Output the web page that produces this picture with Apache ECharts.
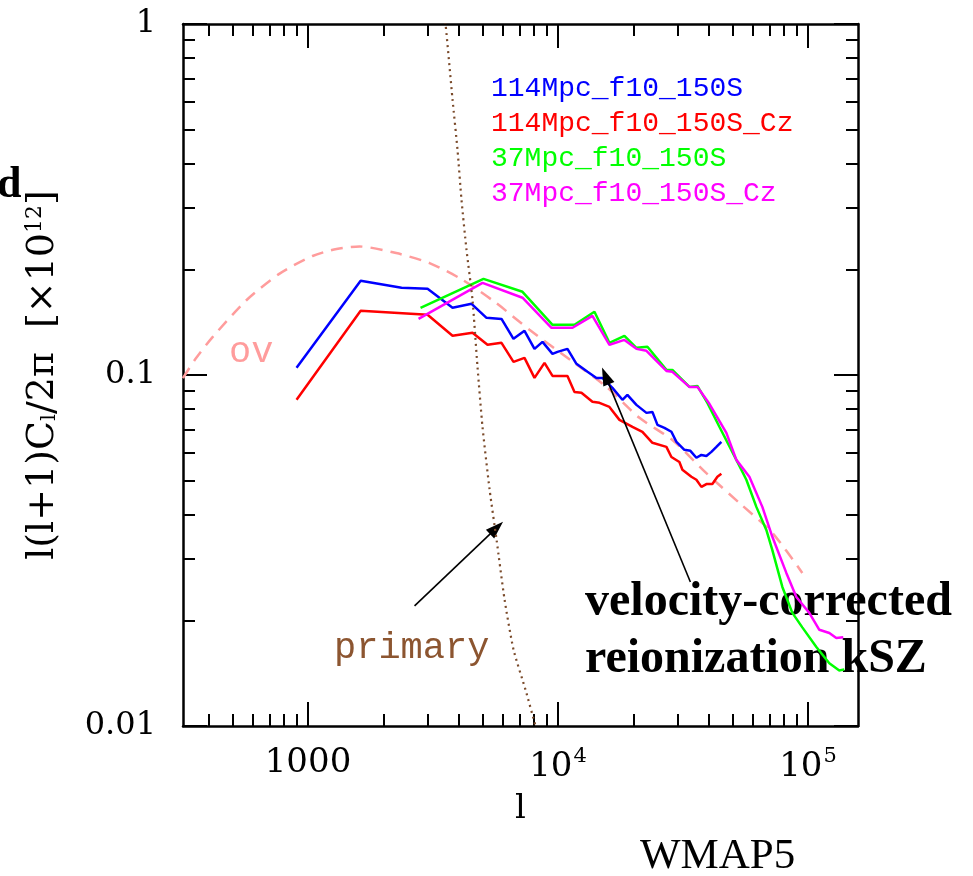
<!DOCTYPE html>
<html>
<head>
<meta charset="utf-8">
<script src="https://cdn.jsdelivr.net/npm/echarts@6/dist/echarts.min.js"></script>
<style>
html, body { margin: 0; padding: 0; background: #fff; }
#chart { width: 973px; height: 876px; }
</style>
</head>
<body>
<div id="chart"></div>
<script>
// Multipole l and band power l(l+1)C_l/2π in units of 10^12
const names = ['114Mpc_f10_150S', '114Mpc_f10_150S_Cz', '37Mpc_f10_150S', '37Mpc_f10_150S_Cz'];

const ell114 = [900, 1624, 2367, 3008, 3786, 4510, 5177, 5943, 6637, 7345, 8054, 8670, 9506, 9954, 10910, 11850, 13120, 14250, 15060, 16510, 18100, 18950, 20590, 22580, 23860, 24990, 26650, 28420, 29760, 32030, 33850, 35770, 37460, 39220, 41070, 43010, 45030];
const cl114 = [0.1048, 0.1855, 0.1772, 0.1760, 0.1554, 0.1595, 0.1455, 0.1445, 0.1268, 0.1336, 0.1187, 0.1243, 0.1149, 0.1164, 0.1187, 0.1076, 0.1021, 0.0981, 0.0981, 0.0919, 0.0850, 0.0878, 0.0822, 0.0780, 0.0785, 0.0721, 0.0707, 0.0689, 0.0645, 0.0612, 0.0608, 0.0581, 0.0592, 0.0588, 0.0604, 0.0624, 0.0645];

const ell114Cz = [900, 1624, 3008, 3786, 4551, 5225, 5943, 6637, 7345, 8054, 8831, 9506, 10910, 11640, 12410, 13730, 14650, 16060, 17610, 19850, 21760, 23860, 27140, 28420, 30590, 31450, 34160, 35770, 37460, 39220, 41450, 43410, 45030];
const cl114Cz = [0.0850, 0.1524, 0.1484, 0.1293, 0.1319, 0.1219, 0.1235, 0.1090, 0.1119, 0.0981, 0.1083, 0.0994, 0.0994, 0.0895, 0.0890, 0.0839, 0.0833, 0.0811, 0.0745, 0.0712, 0.0689, 0.0641, 0.0624, 0.0584, 0.0565, 0.0537, 0.0513, 0.0503, 0.0480, 0.0489, 0.0489, 0.0513, 0.0523];

const ell37 = [2819, 5036, 7211, 9506, 11640, 13990, 16060, 18440, 20590, 22790, 27140, 28680, 33540, 36100, 39580, 44210, 51690, 56680, 62150, 68130, 72010, 78960, 86580, 94900, 108000, 121700, 133400, 139700];
const cl37 = [0.1554, 0.1879, 0.1726, 0.1390, 0.1390, 0.1514, 0.1235, 0.1293, 0.1195, 0.1203, 0.1034, 0.1034, 0.0925, 0.0931, 0.0833, 0.0712, 0.0573, 0.0503, 0.0421, 0.0362, 0.0317, 0.0249, 0.0210, 0.0191, 0.0168, 0.0151, 0.0144, 0.0145];

const ell37Cz = [2768, 4990, 7211, 9417, 11430, 13730, 16060, 18440, 20590, 22580, 27140, 28680, 33540, 36100, 40320, 47150, 51690, 58270, 65670, 72010, 81910, 89830, 101200, 111000, 121700, 129800, 138400];
const cl37Cz = [0.1445, 0.1831, 0.1660, 0.1363, 0.1363, 0.1474, 0.1219, 0.1259, 0.1187, 0.1172, 0.1027, 0.1021, 0.0925, 0.0925, 0.0828, 0.0684, 0.0573, 0.0513, 0.0421, 0.0346, 0.0273, 0.0233, 0.0210, 0.0188, 0.0184, 0.0178, 0.0179];

// Ostriker-Vishniac model curve
const ellOV = [316, 355, 416, 567, 770, 1043, 1301, 1609, 2255, 3064, 4151, 5661, 7691, 11430, 15580, 21170, 28680, 39120, 53150, 72010, 94900];
const clOV = [0.098, 0.1112, 0.1284, 0.1633, 0.1945, 0.2183, 0.2286, 0.2323, 0.2225, 0.2084, 0.1867, 0.1603, 0.1345, 0.1092, 0.0927, 0.0755, 0.0653, 0.0526, 0.0432, 0.0355, 0.0273];

// Primary CMB damping tail
const ellPrim = [3470, 3549, 3786, 3963, 4111, 4305, 4550, 4764, 4988, 5327, 5680, 6114, 6642, 7417, 8130, 8300];
const clPrim = [1.1, 1.0, 0.6085, 0.4383, 0.3156, 0.2273, 0.1637, 0.1055, 0.0712, 0.0471, 0.0339, 0.0229, 0.01647, 0.01267, 0.0100, 0.0095];

// Axis ranges (decades) and tick values
const xRange = [316.23, 158490];
const yRange = [0.01, 1];
const xMajor = [1000, 10000, 100000];
const xMinor = [400, 500, 600, 700, 800, 900, 2000, 3000, 4000, 5000, 6000, 7000, 8000, 9000, 20000, 30000, 40000, 50000, 60000, 70000, 80000, 90000];
const yMajor = [0.01, 0.1, 1];
const yMinor = [0.02, 0.03, 0.04, 0.05, 0.06, 0.07, 0.08, 0.09, 0.2, 0.3, 0.4, 0.5, 0.6, 0.7, 0.8, 0.9];
const xTickText = ['1000', '{b|10}{s|4}', '{b|10}{s|5}'];
const yTickText = ['0.01', '0.1', '1'];

// Annotation arrows: [tail l, tail C, head l, head C]
const arrowPrimary = [2668, 0.02198, 5677, 0.03667];
const arrowKSZ = [33850, 0.02573, 15480, 0.0994];

const lg = Math.log10;
const pairs = (xs, ys) => xs.map((x, i) => [lg(x), lg(ys[i])]);
const fmtFrom = (vals, texts) => v => {
  const i = vals.findIndex(t => Math.abs(lg(t) - v) < 1e-6);
  return i < 0 ? '' : texts[i];
};

const SERIF = '"DejaVu Serif", serif';
const MONO = '"Liberation Mono", monospace';
const black = '#000';
const GREEN = '#00ff00';

function frameAxis(opts) {
  return Object.assign({
    type: 'value',
    min: lg(opts.range[0]),
    max: lg(opts.range[1]),
    splitLine: { show: false },
    axisLine: { show: !!opts.line, onZero: false, lineStyle: { color: black, width: 2.5 } },
    axisTick: {
      show: true, inside: true, length: opts.len,
      customValues: opts.ticks.map(lg),
      lineStyle: { color: black, width: 2 }
    },
    axisLabel: { show: false }
  }, opts.extra || {});
}

const xLabel = {
  show: true,
  customValues: xMajor.map(lg),
  formatter: fmtFrom(xMajor, xTickText),
  margin: 20,
  color: black,
  fontFamily: SERIF,
  fontSize: 34,
  rich: {
    b: { fontFamily: SERIF, fontSize: 34, color: black, lineHeight: 38, verticalAlign: 'bottom' },
    s: { fontFamily: SERIF, fontSize: 21, color: black, lineHeight: 38, verticalAlign: 'top', padding: [0, 0, 0, 1] }
  }
};
const yLabel = {
  show: true,
  customValues: yMajor.map(lg),
  formatter: fmtFrom(yMajor, yTickText),
  margin: 27,
  color: black,
  fontFamily: SERIF,
  fontSize: 32
};

const option = {
  animation: false,
  backgroundColor: '#fff',
  grid: { left: 183, right: 115, top: 24, bottom: 150 },
  xAxis: [
    frameAxis({ range: xRange, ticks: xMajor, len: 24, line: true, extra: {
      position: 'bottom', axisLabel: xLabel,
      name: 'l', nameLocation: 'middle', nameGap: 66,
      nameTextStyle: { fontFamily: SERIF, fontSize: 34, color: black }
    } }),
    frameAxis({ range: xRange, ticks: xMajor, len: 24, line: true, extra: { position: 'top' } }),
    frameAxis({ range: xRange, ticks: xMinor, len: 12, extra: { position: 'bottom' } }),
    frameAxis({ range: xRange, ticks: xMinor, len: 12, extra: { position: 'top' } })
  ],
  yAxis: [
    frameAxis({ range: yRange, ticks: yMajor, len: 24, line: true, extra: {
      position: 'left', axisLabel: yLabel,
      name: '{m|l(l+1)C}{sub|l}{m|/2π  [×10}{sup|12}{m|]}',
      nameLocation: 'middle', nameRotate: 90, nameGap: 118,
      nameTextStyle: {
        rich: {
          m: { fontFamily: SERIF, fontSize: 38, color: black, lineHeight: 44, verticalAlign: 'middle' },
          sub: { fontFamily: SERIF, fontSize: 21, color: black, lineHeight: 44, verticalAlign: 'bottom', padding: [0, 0, 5, 0] },
          sup: { fontFamily: SERIF, fontSize: 22, color: black, lineHeight: 44, verticalAlign: 'top', padding: [3, 0, 0, 0] }
        }
      }
    } }),
    frameAxis({ range: yRange, ticks: yMajor, len: 24, line: true, extra: { position: 'right' } }),
    frameAxis({ range: yRange, ticks: yMinor, len: 12, extra: { position: 'left' } }),
    frameAxis({ range: yRange, ticks: yMinor, len: 12, extra: { position: 'right' } })
  ],
  legend: {
    orient: 'vertical',
    left: 480,
    top: 66,
    itemWidth: 0,
    itemHeight: 0,
    itemGap: 0,
    selectedMode: false,
    textStyle: { fontFamily: MONO, fontSize: 28, lineHeight: 35 },
    data: [
      { name: names[0], textStyle: { color: '#0000ff' } },
      { name: names[1], textStyle: { color: '#ff0000' } },
      { name: names[2], textStyle: { color: GREEN } },
      { name: names[3], textStyle: { color: '#ff00ff' } }
    ]
  },
  graphic: [
    { type: 'text', x: 229, y: 352, style: { text: 'ov', font: '37px ' + MONO, fill: '#ff9c9c', verticalAlign: 'middle' } },
    { type: 'text', x: 334, y: 648, style: { text: 'primary', font: '37px ' + MONO, fill: '#8c5530', verticalAlign: 'middle' } },
    { type: 'text', x: 585, y: 603, style: { text: 'velocity-corrected', font: 'bold 48px "Liberation Serif", serif', fill: black, verticalAlign: 'middle' } },
    { type: 'text', x: 585, y: 660, style: { text: 'reionization kSZ', font: 'bold 48px "Liberation Serif", serif', fill: black, verticalAlign: 'middle' } },
    { type: 'text', x: -3, y: 186, style: { text: 'd', font: 'bold 44px "Liberation Serif", serif', fill: black, verticalAlign: 'middle' } },
    { type: 'text', x: 640, y: 857, style: { text: 'WMAP5', font: '43px "Liberation Serif", serif', fill: black, verticalAlign: 'middle' } }
  ],
  series: [
    {
      name: 'ov', type: 'line', data: pairs(ellOV, clOV), smooth: 0.25, showSymbol: false, silent: true,
      lineStyle: { color: '#ff9c9c', width: 2.5, type: [12, 8] }, z: 1
    },
    {
      name: 'primary', type: 'line', data: pairs(ellPrim, clPrim), smooth: 0.2, showSymbol: false, silent: true,
      lineStyle: { color: '#7a4a2a', width: 2.2, type: [2, 4] }, z: 5
    },
    { name: names[0], type: 'line', data: pairs(ell114, cl114), showSymbol: false, lineStyle: { color: '#0000ff', width: 2.5 }, itemStyle: { color: '#0000ff' }, z: 3 },
    { name: names[1], type: 'line', data: pairs(ell114Cz, cl114Cz), showSymbol: false, lineStyle: { color: '#ff0000', width: 2.5 }, itemStyle: { color: '#ff0000' }, z: 3 },
    { name: names[2], type: 'line', data: pairs(ell37, cl37), showSymbol: false, lineStyle: { color: GREEN, width: 2.5 }, itemStyle: { color: GREEN }, z: 3 },
    { name: names[3], type: 'line', data: pairs(ell37Cz, cl37Cz), showSymbol: false, lineStyle: { color: '#ff00ff', width: 2.5 }, itemStyle: { color: '#ff00ff' }, z: 4 },
    {
      name: 'arrows', type: 'line', data: [], silent: true,
      markLine: {
        silent: true,
        symbol: ['none', 'triangle'],
        symbolSize: [12, 18],
        label: { show: false },
        emphasis: { disabled: true },
        lineStyle: { color: black, width: 1.6, type: 'solid' },
        data: [arrowPrimary, arrowKSZ].map(a => [
          { coord: [lg(a[0]), lg(a[1])] },
          { coord: [lg(a[2]), lg(a[3])] }
        ])
      },
      z: 6
    }
  ]
};

const chart = echarts.init(document.getElementById('chart'), null, { renderer: 'canvas' });
chart.setOption(option);
</script>
</body>
</html>
